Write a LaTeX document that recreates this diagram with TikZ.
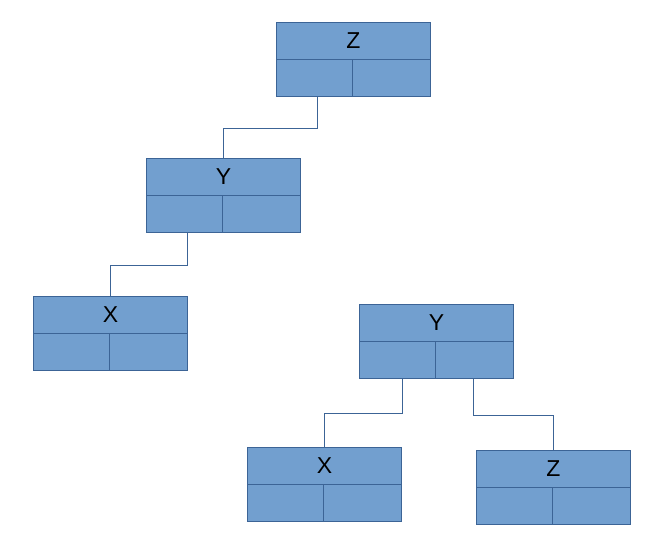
\documentclass[tikz,border=0pt]{standalone}
\usepackage{fontspec}
\setmainfont{Liberation Sans}
\definecolor{boxfill}{RGB}{114,159,207}
\definecolor{boxline}{RGB}{60,100,150}
\tikzset{
  topcell/.style={draw=boxline, fill=boxfill, line width=0.9pt, minimum width=154pt, minimum height=36.5pt, inner sep=0pt, anchor=north west, font=\fontsize{23}{23}\selectfont},
  botcellL/.style={draw=boxline, fill=boxfill, line width=0.9pt, minimum width=75.5pt, minimum height=36.5pt, inner sep=0pt},
  botcellR/.style={draw=boxline, fill=boxfill, line width=0.9pt, minimum width=78.5pt, minimum height=36.5pt, inner sep=0pt},
  link/.style={draw=boxline, line width=0.9pt}
}
\newcommand{\recbox}[4]{%
  \node[topcell] (#1) at (#2pt,-#3pt) {#4};
  \node[botcellL, anchor=north west] (#1L) at (#1.south west) {};
  \node[botcellR, anchor=north east] (#1R) at (#1.south east) {};
}
\begin{document}
\begin{tikzpicture}[x=1pt,y=1pt]
\useasboundingbox (0,0) rectangle (660,-542);
\recbox{zA}{276}{22}{Z}
\recbox{yA}{146}{158}{Y}
\recbox{xA}{33}{296}{X}
\recbox{yB}{359}{304}{Y}
\recbox{xB}{247}{447}{X}
\recbox{zB}{476}{450}{Z}
\draw[link] ([xshift=3.5pt]zAL.south) -- ++(0,-32) -| (yA.north);
\draw[link] ([xshift=3.5pt]yAL.south) -- ++(0,-33) -| (xA.north);
\draw[link] ([xshift=5pt]yBL.south) -- ++(0,-35) -| (xB.north);
\draw[link] ([xshift=-1pt]yBR.south) -- ++(0,-37) -| (zB.north);
\end{tikzpicture}
\end{document}
